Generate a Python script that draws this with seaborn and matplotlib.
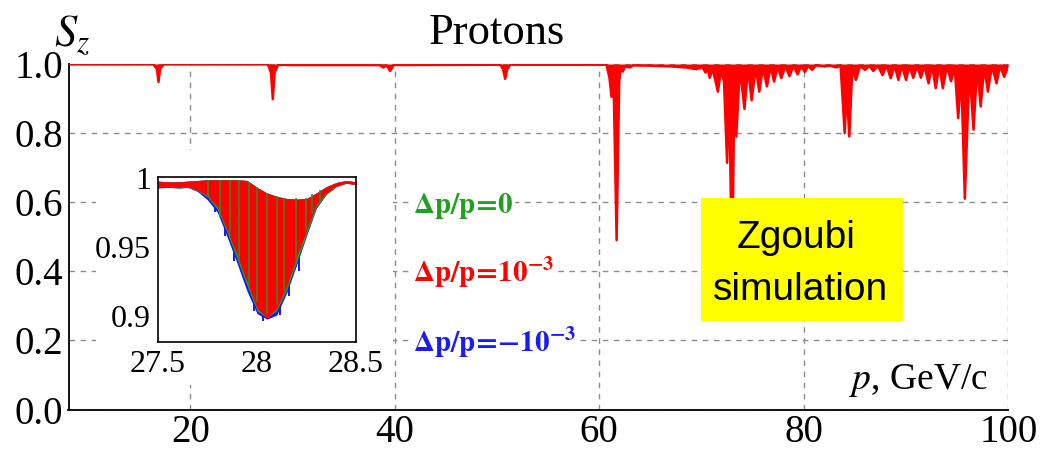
import matplotlib
matplotlib.use("Agg")
import matplotlib.pyplot as plt
import seaborn as sns
from matplotlib.patches import Rectangle
from matplotlib.ticker import MultipleLocator, FixedLocator

# main curve: p (GeV/c) and S_z
p_main = [8.1, 16.4, 16.75, 16.9, 17.05, 17.4, 27.6, 27.9, 28.08, 28.25, 28.6,
          30.0, 38.5, 38.9, 39.2, 39.55, 39.9, 50.3, 50.6, 50.8, 51.0, 51.3,
          60.7, 61.0, 61.2, 61.4, 61.7, 61.95, 62.1, 62.3, 62.5, 63.0, 63.3,
          65.0, 67.0, 68.5, 69.5, 70.1, 70.4, 70.6, 70.8, 71.1, 71.6, 71.9,
          72.2, 72.5, 72.7, 73.0, 73.2, 73.4, 73.75, 74.2, 74.55, 74.9, 75.3,
          75.65, 76.0, 76.4, 76.75, 77.1, 77.45, 77.8, 78.2, 78.6, 79.0, 79.4,
          79.75, 80.1, 80.45, 80.8, 81.2, 82.0, 82.6, 83.2, 83.6, 84.0, 84.2,
          84.45, 84.75, 85.1, 85.5, 86.0, 86.4, 86.8, 87.25, 87.7, 88.1, 88.5,
          88.9, 89.25, 89.6, 90.0, 90.35, 90.7, 91.1, 91.45, 91.8, 92.2, 92.55,
          92.9, 93.25, 93.6, 94.0, 94.4, 94.75, 95.1, 95.4, 95.75, 96.2, 96.6,
          96.95, 97.3, 97.65, 98.0, 98.4, 98.85, 99.2, 99.6, 100.0]
sz_main = [0.999, 0.999, 0.985, 0.948, 0.985, 0.999, 0.999, 0.975, 0.898, 0.975, 0.998,
           0.997, 0.997, 0.99, 0.996, 0.98, 0.997, 0.998, 0.985, 0.957, 0.985, 0.998,
           0.998, 0.96, 0.905, 0.95, 0.49, 0.95, 0.99, 0.978, 0.993, 0.99, 0.996,
           0.995, 0.993, 0.99, 0.985, 0.99, 0.975, 0.99, 0.96, 0.985, 0.92, 0.98,
           0.95, 0.714, 0.93, 0.36, 0.93, 0.79, 0.99, 0.87, 0.99, 0.895, 0.99,
           0.92, 0.99, 0.935, 0.993, 0.949, 0.993, 0.959, 0.994, 0.965, 0.994, 0.97,
           0.995, 0.977, 0.995, 0.983, 0.996, 0.993, 0.995, 0.99, 0.996, 0.80, 0.93,
           0.79, 0.99, 0.954, 0.994, 0.983, 0.995, 0.98, 0.995, 0.968, 0.995, 0.959,
           0.995, 0.954, 0.995, 0.954, 0.995, 0.96, 0.995, 0.96, 0.995, 0.944, 0.995,
           0.93, 0.995, 0.93, 0.995, 0.95, 0.995, 0.843, 0.97, 0.61, 0.99, 0.81,
           0.99, 0.877, 0.993, 0.92, 0.995, 0.944, 0.995, 0.963, 0.995]

# inset: envelopes of the three dp/p runs around 28 GeV/c
p_inset = [27.50, 27.55, 27.60, 27.65, 27.70, 27.75, 27.80, 27.85, 27.90, 27.95, 28.00,
           28.05, 28.10, 28.15, 28.20, 28.25, 28.30, 28.35, 28.40, 28.45, 28.50]
sz_top = [0.9975, 0.997, 0.997, 0.9975, 0.998, 0.9985, 0.9985, 0.9985, 0.9985, 0.998, 0.993,
          0.989, 0.9865, 0.985, 0.9845, 0.985, 0.989, 0.9935, 0.9965, 0.998, 0.997]
sz_low_red = [0.993, 0.9935, 0.993, 0.9935, 0.991, 0.987, 0.979, 0.962, 0.944, 0.925, 0.906,
              0.899, 0.906, 0.922, 0.943, 0.962, 0.981, 0.989, 0.994, 0.996, 0.995]
sz_low_green = [0.993, 0.9935, 0.9925, 0.993, 0.9905, 0.986, 0.977, 0.96, 0.941, 0.922, 0.904,
                0.899, 0.904, 0.919, 0.939, 0.959, 0.979, 0.988, 0.9935, 0.996, 0.995]
sz_low_blue = [0.9925, 0.993, 0.9925, 0.993, 0.990, 0.984, 0.975, 0.957, 0.938, 0.918, 0.902,
               0.898, 0.901, 0.917, 0.937, 0.958, 0.978, 0.988, 0.9935, 0.996, 0.995]
blue_spike_p = [27.79, 27.84, 27.885, 27.935, 27.985, 28.03, 28.07, 28.115, 28.16, 28.21]
blue_spike_low = [0.975, 0.958, 0.94, 0.928, 0.904, 0.897, 0.899, 0.901, 0.915, 0.933]
green_streak_p = [27.755, 27.815, 27.865, 27.91, 27.958, 28.0, 28.052, 28.10, 28.136,
                  28.195, 28.246, 28.28, 28.32]
green_streak_low = [0.986, 0.972, 0.958, 0.94, 0.922, 0.91, 0.902, 0.908, 0.918,
                    0.942, 0.962, 0.974, 0.982]
green_streak_top = [0.998, 0.998, 0.998, 0.998, 0.997, 0.993, 0.989, 0.987, 0.985,
                    0.985, 0.985, 0.988, 0.991]

W, H = 1043, 454


def fx(px):
    return px / W


def fy(py):
    return 1 - py / H


def main():
    sns.set_style("white")
    plt.rcParams["font.family"] = ["Liberation Serif", "DejaVu Serif"]
    plt.rcParams["mathtext.fontset"] = "stix"
    plt.rcParams["text.color"] = "black"
    plt.rcParams["xtick.color"] = "black"
    plt.rcParams["ytick.color"] = "black"

    fig = plt.figure(figsize=(W / 100, H / 100), dpi=100)
    ax = fig.add_axes([fx(68.5), fy(409.5), fx(1008.3 - 68.5), (409.5 - 64) / H])

    ax.fill_between(p_main, sz_main, 1.0, color="red", lw=0, zorder=3)
    sns.lineplot(x=p_main, y=sz_main, color="red", lw=1.8, ax=ax,
                 estimator=None, sort=False, zorder=4)

    ax.set_xlim(8.1, 100)
    ax.set_ylim(0, 1.0)
    ax.xaxis.set_major_locator(FixedLocator([20, 40, 60, 80, 100]))
    ax.xaxis.set_minor_locator(MultipleLocator(5))
    ax.yaxis.set_major_locator(MultipleLocator(0.2))
    ax.yaxis.set_minor_locator(MultipleLocator(0.05))
    ax.set_yticklabels([f"{v:.1f}" for v in ax.get_yticks()])
    ax.grid(True, which="major", ls=(0, (4, 4)), color="#8c8c8c", lw=1)
    for s in ["top", "right"]:
        ax.spines[s].set_visible(False)
    for s in ["left", "bottom"]:
        ax.spines[s].set_color("black")
        ax.spines[s].set_linewidth(1.3)
    ax.tick_params(which="major", direction="in", length=8, width=1.2,
                   labelsize=28, labelcolor="black")
    ax.tick_params(which="minor", direction="in", length=4, width=1)
    ax.tick_params(axis="y", pad=4)
    ax.tick_params(axis="x", pad=3)
    ax.set_xlabel("")
    ax.set_ylabel("")

    # white area behind the inset
    fig.add_artist(Rectangle((fx(96), fy(385)), fx(297), 235 / H,
                             transform=fig.transFigure, facecolor="white",
                             edgecolor="none", zorder=1))

    ins = fig.add_axes([fx(158), fy(342), fx(198), 165 / H], zorder=2)
    ins.vlines(blue_spike_p, blue_spike_low, 0.982, color="#1515ff", lw=1.4, zorder=0.5)
    ins.fill_between(p_inset, sz_low_blue, sz_top, color="#1515ff", lw=0, zorder=0.6)
    ins.fill_between(p_inset, sz_low_green, sz_top, color="#22a022", lw=0, zorder=0.7)
    ins.fill_between(p_inset, sz_low_red, sz_top, color="#ff0000", lw=0, zorder=0.8)
    ins.vlines(green_streak_p, green_streak_low, green_streak_top,
               color="#2a8f2a", lw=1.1, zorder=0.9)
    ins.set_xlim(27.5, 28.5)
    ins.set_ylim(0.8815, 1.0005)
    ins.set_xticks([27.5, 28, 28.5])
    ins.set_xticklabels(["27.5", "28", "28.5"])
    ins.set_yticks([0.9, 0.95, 1.0])
    ins.set_yticklabels(["0.9", "0.95", "1"])
    for s in ins.spines.values():
        s.set_color("black")
        s.set_linewidth(1.2)
    ins.tick_params(direction="in", length=5, width=1, labelsize=23, labelcolor="black")
    ins.tick_params(axis="x", pad=6)
    ins.tick_params(axis="y", pad=5)

    # titles and axis captions
    fig.text(fx(54), fy(46), r"$S_z$", fontsize=32, va="baseline")
    fig.text(fx(497), fy(44), "Protons", fontsize=32, ha="center", va="baseline")
    fig.text(fx(988), fy(389), r"$p$, GeV/c", fontsize=27, ha="right", va="baseline")

    # dp/p labels
    box = dict(facecolor="white", edgecolor="none", pad=1)
    fig.text(fx(413), fy(213), r"$\mathbf{\Delta p/p\!=\!0}$", fontsize=21,
             color="#1fa01f", va="baseline", bbox=box)
    fig.text(fx(413), fy(282), r"$\mathbf{\Delta p/p\!=\!10^{-3}}$", fontsize=21,
             color="#ff0000", va="baseline", bbox=box)
    fig.text(fx(413), fy(352), r"$\mathbf{\Delta p/p\!=\!{-}10^{-3}}$", fontsize=21,
             color="#1a1aff", va="baseline", bbox=box)

    # yellow caption box
    fig.add_artist(Rectangle((fx(701), fy(321)), fx(202), 123 / H,
                             transform=fig.transFigure, facecolor="#ffff00",
                             edgecolor="none", zorder=2))
    fig.text(fx(796), fy(248), "Zgoubi", fontsize=28, family="Liberation Sans",
             ha="center", va="baseline")
    fig.text(fx(801), fy(300), "simulation", fontsize=28, family="Liberation Sans",
             ha="center", va="baseline")

    fig.savefig("out.png", dpi=100)


if __name__ == "__main__":
    main()
